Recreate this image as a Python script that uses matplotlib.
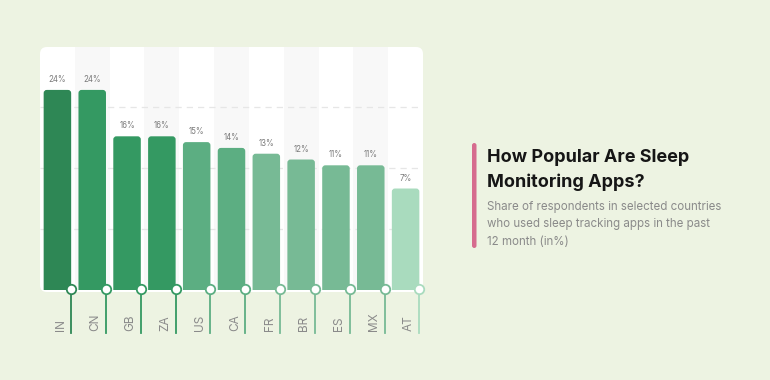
import matplotlib
matplotlib.use('Agg')
import matplotlib.pyplot as plt
from matplotlib.patches import FancyBboxPatch

countries = ['IN', 'CN', 'GB', 'ZA', 'US', 'CA', 'FR', 'BR', 'ES', 'MX', 'AT']
shares = [24, 24, 16, 16, 15, 14, 13, 12, 11, 11, 7]
bar_colors = ['#2E8755', '#349962', '#349962', '#349962', '#5CAE82', '#5CAE82',
              '#77BA95', '#77BA95', '#77BA95', '#77BA95', '#A9DBBE']

title = 'How Popular Are Sleep\nMonitoring Apps?'
subtitle = ['Share of respondents in selected countries',
            'who used sleep tracking apps in the past',
            '12 month (in%)']

W, H = 770, 380
BG = '#EDF3E2'
YMIN, YMAX = -10.5, 31.4
BAR_W = 0.79

plt.rcParams['font.family'] = ['Inter', 'DejaVu Sans']

fig = plt.figure(figsize=(W / 100, H / 100), dpi=100, facecolor=BG)

# white card behind the plot
card = FancyBboxPatch((40 / W, 88 / H), 383 / W, 245 / H,
                      boxstyle='round,pad=0,rounding_size=0.009',
                      mutation_aspect=W / H,
                      transform=fig.transFigure, facecolor='white',
                      edgecolor='none', zorder=-1)
fig.patches.append(card)

ax = fig.add_axes([40 / W, 90 / H, 383 / W, 243 / H])
ax.patch.set_visible(False)
ax.set_xlim(-0.5, len(countries) - 0.5)
ax.set_ylim(YMIN, YMAX)
for s in ax.spines.values():
    s.set_visible(False)
ax.set_xticks([])
ax.set_yticks([])

# alternating column bands
for i in range(len(countries)):
    if i % 2 == 1:
        ax.axvspan(i - 0.5, i + 0.5, ymin=0, ymax=1, color='#F8F8F8', lw=0, zorder=0)

# dashed guides
for f in (0.251, 0.502, 0.753):
    ax.plot([0, 1], [f, f], transform=ax.transAxes, color='#E6E6E6',
            lw=0.9, ls=(0, (5, 4)), zorder=1)

px_x = 383 / len(countries)
px_y = 243 / (YMAX - YMIN)
base = YMIN - 3
xt = ax.get_xaxis_transform()

for i, (name, v, c) in enumerate(zip(countries, shares, bar_colors)):
    bar = FancyBboxPatch((i - BAR_W / 2, base), BAR_W, v - base,
                         boxstyle='round,pad=0,rounding_size=0.09',
                         mutation_aspect=px_x / px_y,
                         facecolor=c, edgecolor='none', zorder=2)
    ax.add_patch(bar)
    ax.annotate(f'{v}%', (i, v), xytext=(0, 7.5), textcoords='offset points',
                ha='center', va='center', fontsize=5.7, color='#7A7A7A')

    xr = i + BAR_W / 2
    ax.plot([xr, xr], [0, -0.177], transform=xt, color=c, lw=1.3,
            clip_on=False, zorder=3)
    ax.plot([xr], [0.003], 'o', transform=xt, ms=6.8, mfc='white', mec=c,
            mew=1.3, clip_on=False, zorder=4)
    ax.text(xr - 10.5 / px_x, -0.169, name, transform=xt, rotation=90,
            ha='center', va='bottom', fontsize=8.5, color='#8A8A8A')

# title block on the right
fig.patches.append(FancyBboxPatch((472 / W, (H - 248) / H), 4.5 / W, 105 / H,
                                  boxstyle='round,pad=0,rounding_size=0.003',
                                  mutation_aspect=W / H,
                                  transform=fig.transFigure,
                                  facecolor='#D66B8E', edgecolor='none'))
for line, yb in zip(title.split('\n'), (162, 187)):
    fig.text(487 / W, (H - yb) / H, line, fontsize=13, fontweight='bold',
             color='#161616', va='baseline', ha='left')
for line, yb in zip(subtitle, (210, 227.5, 245)):
    fig.text(487 / W, (H - yb) / H, line, fontsize=8.3,
             color='#8A8A8A', va='baseline', ha='left')

fig.savefig('out.png', dpi=100, facecolor=BG)
